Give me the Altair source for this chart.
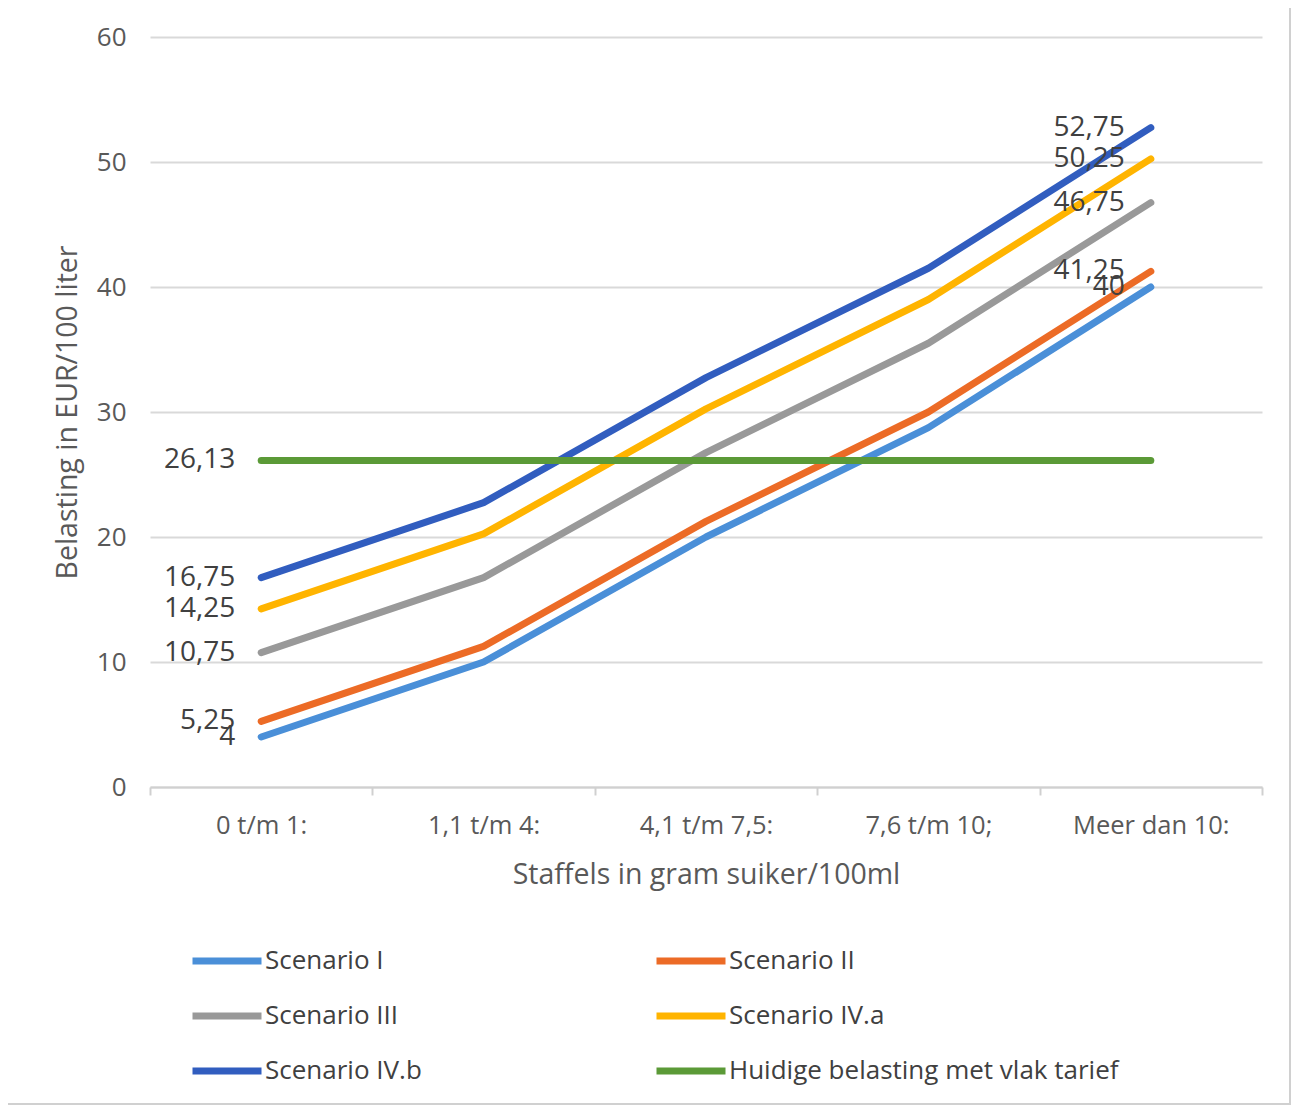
import altair as alt
import pandas as pd

categories = ["0 t/m 1:", "1,1 t/m 4:", "4,1 t/m 7,5:", "7,6 t/m 10;", "Meer dan 10:"]
series_names = ["Scenario I", "Scenario II", "Scenario III", "Scenario IV.a", "Scenario IV.b",
                "Huidige belasting met vlak tarief"]
scenario_1 = [4, 10, 20, 28.75, 40]
scenario_2 = [5.25, 11.25, 21.25, 30, 41.25]
scenario_3 = [10.75, 16.75, 26.75, 35.5, 46.75]
scenario_4a = [14.25, 20.25, 30.25, 39, 50.25]
scenario_4b = [16.75, 22.75, 32.75, 41.5, 52.75]
huidige = [26.13, 26.13, 26.13, 26.13, 26.13]
colors = ["#4a8fd8", "#ec6b26", "#999999", "#ffb400", "#315dbf", "#5b9a37"]

# legend is filled column by column: order so that rows read I | II, III | IV.a, IV.b | Huidige
legend_order = [0, 2, 4, 1, 3, 5]

all_series = [scenario_1, scenario_2, scenario_3, scenario_4a, scenario_4b, huidige]


def fmt(v):
    s = ("%g" % v)
    return s.replace(".", ",")


rows = []
for si, (name, vals) in enumerate(zip(series_names, all_series)):
    for ci, (c, v) in enumerate(zip(categories, vals)):
        show = ci == 0 or (ci == len(categories) - 1 and si < 5)
        rows.append({"cat": c, "value": v, "series": name,
                     "label": fmt(v) if show else ""})
df = pd.DataFrame(rows)

FONT = "Open Sans"
W, H = 1112, 750

dom = [series_names[i] for i in legend_order]
rng = [colors[i] for i in legend_order]

xenc = alt.X("cat:N", sort=categories, bandPosition=0.5,
             scale=alt.Scale(type="band", paddingInner=0, paddingOuter=0),
             axis=alt.Axis(title="Staffels in gram suiker/100ml", labelAngle=0,
                           tickBand="extent", ticks=True, tickSize=8, tickColor="#d0d0d0",
                           tickWidth=2, domainColor="#d0d0d0", domainWidth=2,
                           labelFontSize=25.5, labelColor="#595959", labelPadding=18,
                           titleFontSize=28.5, titleColor="#595959", titleFontWeight="normal",
                           titlePadding=22, grid=False))
yenc = alt.Y("value:Q", scale=alt.Scale(domain=[0, 60]),
             axis=alt.Axis(title="Belasting in EUR/100 liter", values=[0, 10, 20, 30, 40, 50, 60],
                           domain=False, ticks=False, gridColor="#d9d9d9", gridWidth=2,
                           labelFontSize=26, labelColor="#595959", labelPadding=24,
                           titleFontSize=28.5, titleColor="#595959", titleFontWeight="normal",
                           titlePadding=14))

base = alt.Chart(df)

lines = base.mark_line(strokeWidth=7, strokeCap="round", strokeJoin="round").encode(
    x=xenc, y=yenc,
    color=alt.Color("series:N", sort=dom,
                    scale=alt.Scale(domain=dom, range=rng),
                    legend=alt.Legend(orient="none", legendX=39, legendY=886, columns=2,
                                      columnPadding=220, rowPadding=3, symbolType="stroke",
                                      symbolStrokeWidth=7, symbolSize=4761, labelFontSize=26,
                                      labelColor="#404040", labelOffset=0, title=None,
                                      labelLimit=600, labelFont=FONT)),
)

labels = base.transform_filter("datum.label != ''").mark_text(
    align="right", baseline="middle", dx=-26, fontSize=28, color="#404040", font=FONT
).encode(x=xenc, y=yenc, text="label:N")

border = alt.Chart(pd.DataFrame({"a": [0]})).mark_rect(
    filled=False, stroke="#d0d0d0", strokeWidth=2
).encode(x=alt.value(-146), x2=alt.value(1140), y=alt.value(-33), y2=alt.value(1067))

chart = alt.layer(border, lines, labels).properties(
    width=W, height=H,
    autosize=alt.AutoSizeParams(type="none"),
    padding={"left": 142, "top": 29, "right": 29, "bottom": 319},
).configure(font=FONT).configure_view(stroke=None).configure_axis(labelFont=FONT, titleFont=FONT)

chart.save("out.html", embed_options={"renderer": "svg", "actions": False})
